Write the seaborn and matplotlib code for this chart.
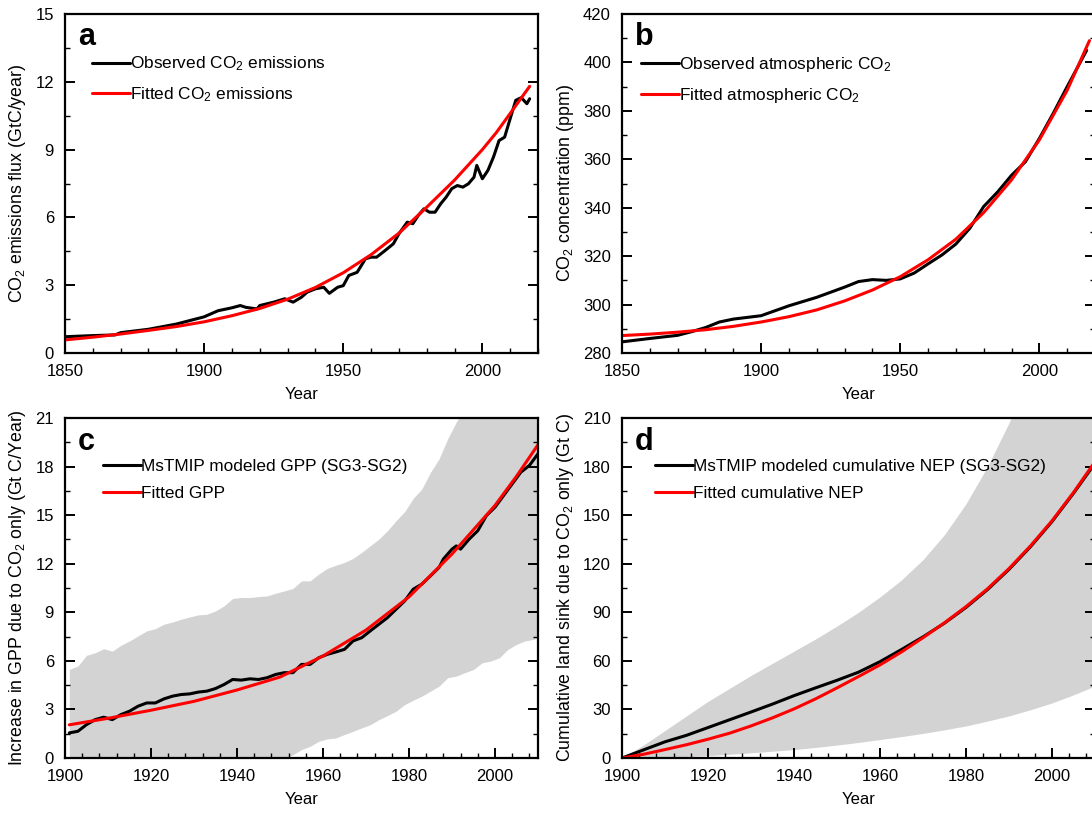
import numpy as np
import pandas as pd
import matplotlib
matplotlib.use("Agg")
import matplotlib.pyplot as plt
from matplotlib.ticker import MultipleLocator
import seaborn as sns

# ---------------- Panel a: CO2 emissions ----------------
a_obs_year = [1850, 1860, 1868, 1870, 1880, 1890, 1900, 1905, 1910, 1913, 1915, 1919, 1920,
              1925, 1929, 1932, 1935, 1937, 1940, 1943, 1945, 1948, 1950, 1952, 1955, 1958,
              1960, 1962, 1965, 1968, 1970, 1973, 1975, 1977, 1979, 1981, 1983, 1985, 1987,
              1989, 1991, 1993, 1995, 1997, 1998, 2000, 2002, 2004, 2006, 2008, 2010, 2012,
              2014, 2016, 2017]
a_obs_val = [0.72, 0.77, 0.80, 0.90, 1.05, 1.28, 1.60, 1.87, 2.00, 2.10, 2.02, 1.95, 2.10,
             2.25, 2.40, 2.25, 2.47, 2.69, 2.84, 2.91, 2.64, 2.91, 2.98, 3.43, 3.57, 4.17,
             4.24, 4.24, 4.53, 4.83, 5.27, 5.79, 5.72, 6.09, 6.38, 6.23, 6.23, 6.60, 6.90,
             7.27, 7.41, 7.34, 7.49, 7.78, 8.30, 7.71, 8.08, 8.67, 9.40, 9.55, 10.37, 11.18,
             11.30, 11.03, 11.25]
a_fit_year = [1850, 1860, 1870, 1880, 1890, 1900, 1910, 1920, 1930, 1940, 1950, 1960, 1970,
              1980, 1990, 2000, 2005, 2010, 2017]
a_fit_val = [0.58, 0.70, 0.84, 1.00, 1.17, 1.38, 1.65, 1.97, 2.38, 2.90, 3.55, 4.35, 5.30,
             6.45, 7.65, 9.00, 9.75, 10.60, 11.80]

# ---------------- Panel b: atmospheric CO2 ----------------
b_obs_year = [1850, 1860, 1870, 1875, 1880, 1885, 1890, 1900, 1910, 1920, 1930, 1935, 1940,
              1945, 1950, 1955, 1960, 1965, 1970, 1975, 1980, 1985, 1990, 1995, 2000, 2005,
              2010, 2017]
b_obs_val = [284.6, 286.0, 287.3, 288.8, 290.5, 292.8, 294.0, 295.4, 299.5, 303.0, 307.2,
             309.5, 310.3, 310.0, 310.6, 313.0, 316.8, 320.5, 325.0, 331.5, 340.5, 346.5,
             353.4, 359.0, 368.6, 379.0, 390.0, 405.0]
b_fit_year = [1850, 1860, 1870, 1880, 1890, 1900, 1910, 1920, 1930, 1940, 1950, 1960, 1970,
              1980, 1990, 2000, 2010, 2018]
b_fit_val = [287.2, 287.8, 288.6, 289.6, 291.0, 292.8, 295.0, 297.8, 301.5, 306.0, 311.5,
             318.5, 327.0, 338.0, 351.5, 368.0, 388.5, 409.0]

# ---------------- Panel c: GPP increase ----------------
c_year = [1901, 1903, 1905, 1907, 1909, 1911, 1913, 1915, 1917, 1919, 1921, 1923, 1925, 1927,
          1929, 1931, 1933, 1935, 1937, 1939, 1941, 1943, 1945, 1947, 1949, 1951, 1953, 1955,
          1957, 1959, 1961, 1963, 1965, 1967, 1969, 1971, 1973, 1975, 1977, 1979, 1981, 1983,
          1985, 1987, 1988, 1990, 1991, 1992, 1994, 1996, 1998, 2000, 2002, 2004, 2006, 2008,
          2010]
c_model = [1.55, 1.65, 2.06, 2.37, 2.52, 2.37, 2.68, 2.89, 3.20, 3.40, 3.40, 3.65, 3.82, 3.92,
           3.96, 4.07, 4.13, 4.29, 4.54, 4.85, 4.81, 4.89, 4.85, 4.96, 5.16, 5.27, 5.27, 5.78,
           5.78, 6.19, 6.40, 6.55, 6.71, 7.23, 7.43, 7.85, 8.26, 8.67, 9.19, 9.70, 10.43, 10.74,
           11.25, 11.77, 12.29, 12.90, 13.10, 12.90, 13.52, 14.04, 14.97, 15.49, 16.21, 16.93,
           17.65, 18.07, 18.79]
c_fit_year = [1901, 1910, 1920, 1930, 1940, 1950, 1960, 1970, 1980, 1990, 2000, 2005, 2010]
c_fit_val = [2.05, 2.45, 2.95, 3.50, 4.20, 5.00, 6.30, 7.90, 9.95, 12.60, 15.60, 17.40, 19.35]
c_band_year = [1901, 1903, 1905, 1907, 1909, 1911, 1913, 1915, 1917, 1919, 1921, 1923, 1925,
               1927, 1929, 1931, 1933, 1935, 1937, 1939, 1941, 1943, 1945, 1947, 1949, 1951,
               1953, 1955, 1957, 1959, 1961, 1963, 1965, 1967, 1969, 1971, 1973, 1975, 1977,
               1979, 1981, 1983, 1985, 1987, 1989, 1991, 1993, 1995, 1997, 1999, 2001, 2003,
               2005, 2007, 2009, 2010]
c_band_hi = [5.47, 5.68, 6.34, 6.50, 6.75, 6.60, 6.96, 7.23, 7.54, 7.85, 7.99, 8.26, 8.40,
             8.57, 8.71, 8.84, 8.88, 9.08, 9.40, 9.85, 9.91, 9.91, 9.97, 10.01, 10.18, 10.32,
             10.47, 10.94, 10.94, 11.36, 11.71, 11.91, 12.08, 12.33, 12.70, 13.11, 13.52, 14.04,
             14.66, 15.22, 16.04, 16.62, 17.65, 18.48, 19.72, 20.75, 21.60, 22.20, 22.80, 23.40,
             24.00, 24.60, 25.20, 25.80, 26.40, 26.70]
c_band_lo = [-4.0, -3.9, -3.8, -3.7, -3.6, -3.5, -3.3, -3.1, -2.9, -2.7, -2.5, -2.3, -2.1,
             -1.9, -1.7, -1.5, -1.3, -1.1, -0.9, -0.7, -0.6, -0.5, -0.4, -0.3, -0.2, -0.05,
             0.20, 0.52, 0.72, 1.03, 1.18, 1.24, 1.45, 1.65, 1.86, 2.06, 2.37, 2.62, 2.89,
             3.30, 3.57, 3.82, 4.13, 4.44, 4.96, 5.06, 5.27, 5.47, 5.88, 5.99, 6.19, 6.71,
             7.02, 7.23, 7.33, 7.43]

# ---------------- Panel d: cumulative NEP ----------------
d_year = [1900, 1905, 1910, 1915, 1920, 1925, 1930, 1935, 1940, 1945, 1950, 1955, 1960, 1965,
          1970, 1975, 1980, 1985, 1990, 1995, 2000, 2005, 2010]
d_model = [0.0, 5.0, 10.0, 14.0, 18.8, 23.6, 28.4, 33.3, 38.5, 43.3, 48.0, 53.0, 59.5, 67.0,
           74.8, 83.3, 93.0, 104.0, 116.5, 130.5, 146.0, 163.5, 182.0]
d_fit = [0.0, 2.3, 5.2, 8.2, 11.6, 15.3, 19.8, 24.8, 30.3, 36.5, 43.3, 50.3, 57.5, 65.5, 74.3,
         83.5, 93.5, 104.5, 117.0, 131.0, 146.5, 164.0, 183.0]
d_band_hi = [0.0, 8.0, 17.0, 26.0, 35.0, 43.0, 51.0, 58.5, 66.0, 73.5, 81.5, 90.0, 99.5,
             110.0, 122.5, 138.0, 157.0, 180.0, 207.0, 238.0, 270.0, 305.0, 340.0]
d_band_lo = [0.0, 0.2, 0.5, 1.0, 1.5, 2.3, 3.2, 4.2, 5.2, 6.5, 8.0, 9.6, 11.4, 13.2, 15.2,
             17.4, 19.8, 22.8, 26.0, 29.8, 34.0, 39.0, 44.5]

# ---------------- Styling ----------------
sns.set_theme(style="ticks")
plt.rcParams["font.family"] = ["Liberation Sans", "DejaVu Sans"]
plt.rcParams["mathtext.default"] = "regular"
plt.rcParams["axes.linewidth"] = 1.6
for k in ["text.color", "axes.labelcolor", "xtick.color", "ytick.color", "axes.edgecolor"]:
    plt.rcParams[k] = "black"

W, H = 1092, 814
fig = plt.figure(figsize=(W / 100, H / 100), dpi=100)
fig.patch.set_facecolor("white")

def px_axes(left, top, right, bottom):
    return fig.add_axes([left / W, 1 - bottom / H, (right - left) / W, (bottom - top) / H])

ax_a = px_axes(65, 14, 538, 353)
ax_b = px_axes(622, 14, 1095, 353)
ax_c = px_axes(65, 418, 538, 758)
ax_d = px_axes(622, 418, 1095, 758)

LW = 2.2
FS = 12

def style(ax, xlim, ylim, xmaj, xmin, ymaj, ymin, ylabel):
    ax.set_xlim(*xlim)
    ax.set_ylim(*ylim)
    ax.xaxis.set_major_locator(MultipleLocator(xmaj))
    ax.xaxis.set_minor_locator(MultipleLocator(xmin))
    ax.yaxis.set_major_locator(MultipleLocator(ymaj))
    ax.yaxis.set_minor_locator(MultipleLocator(ymin))
    ax.tick_params(which="both", direction="in", left=True, right=True, bottom=True,
                   top=False, colors="black", labelsize=FS)
    ax.tick_params(which="major", length=7, width=1.4, pad=8)
    ax.tick_params(which="minor", length=3.5, width=1.0)
    for s in ax.spines.values():
        s.set_visible(True)
        s.set_color("black")
        s.set_linewidth(1.6)
    ax.set_facecolor("white")
    ax.set_xlabel("Year", fontsize=FS, labelpad=6)
    ax.set_ylabel(ylabel, fontsize=12.8, labelpad=5)

def legend(ax, x, y):
    leg = ax.legend(loc="upper left", bbox_to_anchor=(x, y), frameon=False, fontsize=12.4,
                    handlelength=2.2, handletextpad=0.0, labelspacing=0.7,
                    borderpad=0, borderaxespad=0)
    return leg

def letter(ax, s):
    ax.text(0.028, 0.975, s, transform=ax.transAxes, fontsize=22, fontweight="bold",
            va="top", ha="left", color="black")

# Panel a
sns.lineplot(x=a_obs_year, y=a_obs_val, ax=ax_a, color="black", lw=LW,
             label="Observed CO$_2$ emissions")
sns.lineplot(x=a_fit_year, y=a_fit_val, ax=ax_a, color="red", lw=LW,
             label="Fitted CO$_2$ emissions")
style(ax_a, (1850, 2020), (0, 15), 50, 10, 3, 1.5, "CO$_2$ emissions flux (GtC/year)")
legend(ax_a, 0.058, 0.88)
letter(ax_a, "a")

# Panel b
sns.lineplot(x=b_obs_year, y=b_obs_val, ax=ax_b, color="black", lw=LW,
             label="Observed atmospheric CO$_2$")
sns.lineplot(x=b_fit_year, y=b_fit_val, ax=ax_b, color="red", lw=LW,
             label="Fitted atmospheric CO$_2$")
style(ax_b, (1850, 2020), (280, 420), 50, 10, 20, 10, "CO$_2$ concentration (ppm)")
legend(ax_b, 0.04, 0.88)
letter(ax_b, "b")

# Panel c
ax_c.fill_between(c_band_year, c_band_lo, c_band_hi, color="#d3d3d3", lw=0, zorder=0)
sns.lineplot(x=c_year, y=c_model, ax=ax_c, color="black", lw=LW,
             label="MsTMIP modeled GPP (SG3-SG2)")
sns.lineplot(x=c_fit_year, y=c_fit_val, ax=ax_c, color="red", lw=LW, label="Fitted GPP")
style(ax_c, (1900, 2010), (0, 21), 20, 4, 3, 1.5,
      "Increase in GPP due to CO$_2$ only (Gt C/Year)")
legend(ax_c, 0.08, 0.88)
letter(ax_c, "c")

# Panel d
ax_d.fill_between(d_year, d_band_lo, d_band_hi, color="#d3d3d3", lw=0, zorder=0)
sns.lineplot(x=d_year, y=d_model, ax=ax_d, color="black", lw=LW,
             label="MsTMIP modeled cumulative NEP (SG3-SG2)")
sns.lineplot(x=d_year, y=d_fit, ax=ax_d, color="red", lw=LW, label="Fitted cumulative NEP")
style(ax_d, (1900, 2010), (0, 210), 20, 4, 30, 15,
      "Cumulative land sink due to CO$_2$ only (Gt C)")
legend(ax_d, 0.07, 0.88)
letter(ax_d, "d")

fig.savefig("out.png", dpi=100)
